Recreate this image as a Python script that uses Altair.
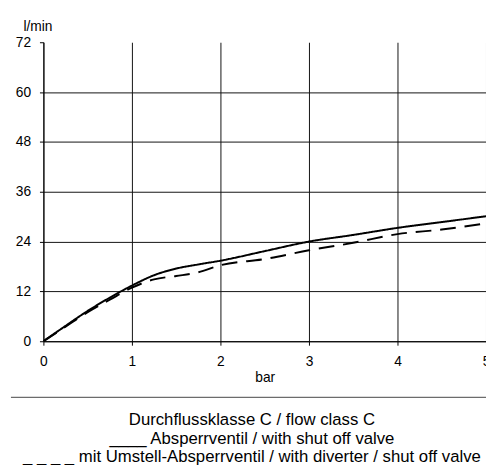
import altair as alt
import pandas as pd

# pressure in bar
pressure = [0, 0.25, 0.5, 0.75, 1, 1.25, 1.5, 1.75, 2, 2.5, 3, 3.5, 4, 4.5, 5]
# flow in l/min
flow_shutoff = [0, 3.7, 7.3, 10.5, 13.4, 15.9, 17.5, 18.5, 19.4, 21.7, 24.0, 25.6, 27.3, 28.7, 30.1]
flow_diverter = [0, 3.5, 7.0, 10.0, 12.9, 14.9, 15.7, 16.6, 18.3, 19.8, 21.9, 23.7, 25.8, 26.9, 28.4]
series_names = ["Absperrventil", "Umstell-Absperrventil"]

x_ticks = [0, 1, 2, 3, 4, 5]
y_ticks = [0, 12, 24, 36, 48, 60, 72]

legend_lines = [
    "Durchflussklasse C / flow class C",
    "____ Absperrventil / with shut off valve",
    "_ _ _ _ mit Umstell-Absperrventil / with diverter / shut off valve",
]

FONT = "Liberation Sans"

df = pd.DataFrame({
    "bar": pressure + pressure,
    "flow": flow_shutoff + flow_diverter,
    "series": [series_names[0]] * len(pressure) + [series_names[1]] * len(pressure),
})

x_enc = alt.X(
    "bar:Q",
    scale=alt.Scale(domain=[0, 5], nice=False),
    axis=alt.Axis(
        values=x_ticks, title="bar", titleX=225, titleY=41, titleBaseline="alphabetic",
        titleFontWeight="normal", titleFontSize=14, titleFont=FONT,
        labelFont=FONT, labelFontSize=14, labelPadding=10, tickSize=4,
        labelColor="#000", tickColor="#000", domainColor="#000", gridColor="#111",
        grid=True, labelFlush=False, labelOverlap=False,
    ),
)
y_enc = alt.Y(
    "flow:Q",
    scale=alt.Scale(domain=[0, 72], nice=False),
    axis=alt.Axis(
        values=y_ticks, title="l/min", titleAngle=0, titleX=-6, titleY=-12,
        titleAlign="center", titleBaseline="alphabetic",
        titleFontWeight="normal", titleFontSize=14, titleFont=FONT,
        labelFont=FONT, labelFontSize=14, labelPadding=9, tickSize=4,
        labelColor="#000", tickColor="#000", domainColor="#000", gridColor="#111",
        grid=True, gridOpacity={"condition": {"test": "datum.value == 72", "value": 0}, "value": 1},
        labelOverlap=False,
    ),
)

lines = alt.Chart(df).mark_line(
    color="black", strokeWidth=2, clip=True, interpolate="monotone"
).encode(
    x=x_enc,
    y=y_enc,
    strokeDash=alt.StrokeDash(
        "series:N",
        scale=alt.Scale(domain=series_names, range=[[1, 0], [16, 9]]),
        legend=None,
    ),
)

sep = alt.Chart(pd.DataFrame({"a": [0]})).mark_rule(color="#444", strokeWidth=1).encode(
    x=alt.value(-33), x2=alt.value(452), y=alt.value(361)
)

legend_text = alt.Chart(pd.DataFrame({"t": ["\n".join(legend_lines)]})).mark_text(
    align="center", baseline="alphabetic", font=FONT, fontSize=17,
    lineHeight=19, lineBreak="\n", color="#000",
).encode(x=alt.value(212), y=alt.value(389), text="t:N")

chart = alt.layer(lines, sep, legend_text).properties(
    width=450,
    height=304,
    padding={"left": 36, "top": 31, "right": 0, "bottom": 122},
    autosize=alt.AutoSizeParams(type="none"),
    background="white",
).configure_view(stroke=None)

chart.save("out.html", embed_options={"renderer": "svg", "actions": False})
